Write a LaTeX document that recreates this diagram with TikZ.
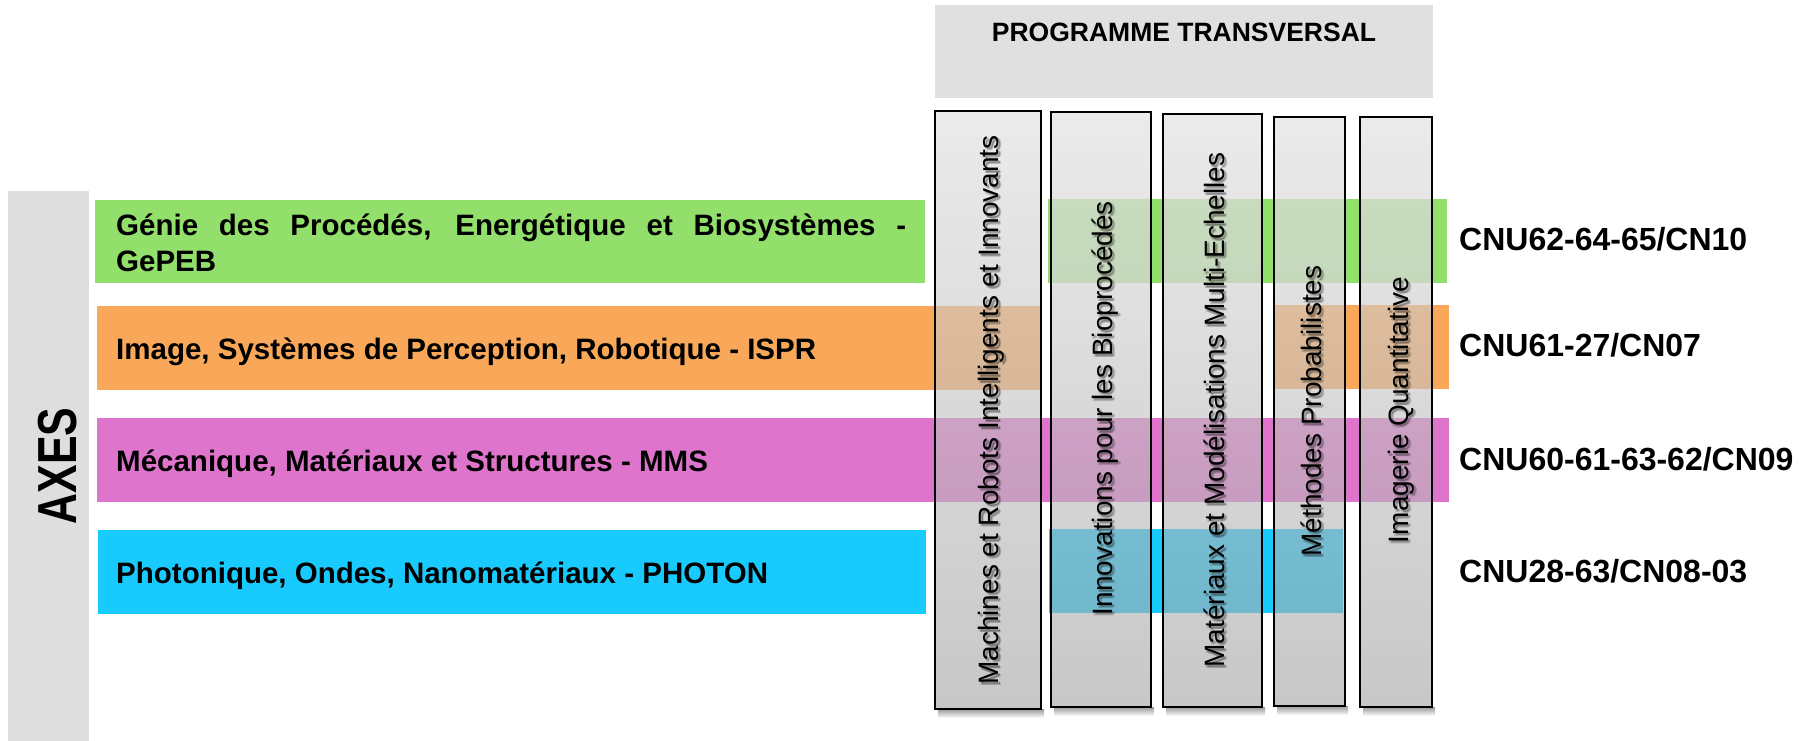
\documentclass[tikz,border=0pt]{standalone}
\usepackage{fontspec}
\setmainfont{Liberation Sans}

\definecolor{axisgray}{RGB}{222,222,222}
\definecolor{boxgray}{RGB}{224,224,224}
\definecolor{gepebgreen}{RGB}{146,224,107}
\definecolor{isprorange}{RGB}{248,168,88}
\definecolor{mmspink}{RGB}{223,116,204}
\definecolor{photoncyan}{RGB}{25,202,254}
\definecolor{coltop}{RGB}{222,222,222}
\definecolor{colbot}{RGB}{163,163,163}

\tikzset{
  band/.style={fill=#1, draw=none},
  bandlabel/.style={anchor=base west, inner sep=0pt,
    font=\fontsize{29.5}{36}\selectfont\bfseries},
  cnulabel/.style={anchor=base west, inner sep=0pt,
    font=\fontsize{32}{38}\selectfont\bfseries},
  colbox/.style={draw=black, line width=2pt, top color=coltop,
    bottom color=colbot, fill opacity=0.6},
  colshadow/.style={top color=black!40, bottom color=white, draw=none},
  coltext/.style={rotate=90, inner sep=0pt, anchor=center,
    font=\fontsize{28}{32}\selectfont, text height=20pt, text depth=0pt},
  coltextshadow/.style={coltext, text=black, text opacity=0.16},
}

\begin{document}
\begin{tikzpicture}[x=1pt, y=-1pt]
  \useasboundingbox[fill=white] (0,0) rectangle (1799,741);

  % vertical strip for the axes
  \fill[axisgray] (8,191) rectangle (89,741);
  \node[rotate=90, inner sep=0pt, anchor=center, text height=40pt, text depth=0pt,
        font=\fontsize{55}{60}\selectfont\bfseries] (axes) at (56,466)
        {\scalebox{0.78}[1]{AXES}};

  % transversal programme header
  \fill[boxgray] (935,5) rectangle (1433,98);
  \node[anchor=base, inner sep=0pt, font=\fontsize{26.5}{30}\selectfont\bfseries]
        (progtitle) at (1184,42) {PROGRAMME TRANSVERSAL};

  % research axes as coloured bands
  \path[band=gepebgreen]  (95,200)   rectangle (925,283);
  \path[band=gepebgreen]  (1048,199) rectangle (1447,283);
  \path[band=isprorange]  (97,306)   rectangle (1040,390);
  \path[band=isprorange]  (1274,305) rectangle (1449,389);
  \path[band=mmspink]     (97,418)   rectangle (1449,502);
  \path[band=photoncyan]  (98,530)   rectangle (926,614);
  \path[band=photoncyan]  (1049,529) rectangle (1343,613);

  % soft shadows under the programme columns
  \foreach \xa/\xb/\yb in {935/1041/709, 1051/1151/707, 1163/1262/707,
                          1274/1345/706, 1360/1432/707}{
    \shade[colshadow] (\xa+3,\yb) rectangle (\xb+3,\yb+9);
  }

  % programme columns (translucent, over the bands)
  \path[colbox] (935,111)  rectangle (1041,709);
  \path[colbox] (1051,112) rectangle (1151,707);
  \path[colbox] (1163,114) rectangle (1262,707);
  \path[colbox] (1274,117) rectangle (1345,706);
  \path[colbox] (1360,117) rectangle (1432,707);

  % the columns are less transparent near their top
  \foreach \xa/\xb in {1051/1151, 1163/1262, 1274/1345, 1360/1432}{
    \fill[coltop, fill opacity=0.4] (\xa+1,199) rectangle (\xb-1,283);
  }

  % column titles with their soft shadow
  \foreach \dx/\dy [count=\k] in {2/1.5, 3/2.5, 1.5/3}{
    \node[coltextshadow] (m\k s) at (988.5+\dx,410+\dy) {Machines et Robots Intelligents et Innovants};
    \node[coltextshadow] (b\k s) at (1102+\dx,408+\dy) {Innovations pour les Bioprocédés};
    \node[coltextshadow] (e\k s) at (1214+\dx,410+\dy) {Matériaux et Modélisations Multi-Echelles};
    \node[coltextshadow] (p\k s) at (1311+\dx,411+\dy) {Méthodes Probabilistes};
    \node[coltextshadow] (q\k s) at (1398+\dx,410+\dy) {Imagerie Quantitative};
  }
  \node[coltext] (machines) at (988.5,410) {Machines et Robots Intelligents et Innovants};
  \node[coltext] (biopro)   at (1102,408)  {Innovations pour les Bioprocédés};
  \node[coltext] (multiech) at (1214,410)  {Matériaux et Modélisations Multi-Echelles};
  \node[coltext] (proba)    at (1311,411)  {Méthodes Probabilistes};
  \node[coltext] (imagerie) at (1398,410)  {Imagerie Quantitative};

  % band titles
  \node[bandlabel] (gepeb1) at (116,235)
    {\makebox[790pt][s]{Génie des Procédés, Energétique et Biosystèmes -}};
  \node[bandlabel] (gepeb2) at (116,271) {GePEB};
  \node[bandlabel] (ispr)   at (116,359.5) {Image, Systèmes de Perception, Robotique - ISPR};
  \node[bandlabel] (mms)    at (116,471) {Mécanique, Matériaux et Structures - MMS};
  \node[bandlabel] (photon) at (116,583) {Photonique, Ondes, Nanomatériaux - PHOTON};

  % CNU sections
  \node[cnulabel] (cnu1) at (1459,250) {CNU62-64-65/CN10};
  \node[cnulabel] (cnu2) at (1459,356) {CNU61-27/CN07};
  \node[cnulabel] (cnu3) at (1459,470) {CNU60-61-63-62/CN09};
  \node[cnulabel] (cnu4) at (1459,582) {CNU28-63/CN08-03};
\end{tikzpicture}
\end{document}
